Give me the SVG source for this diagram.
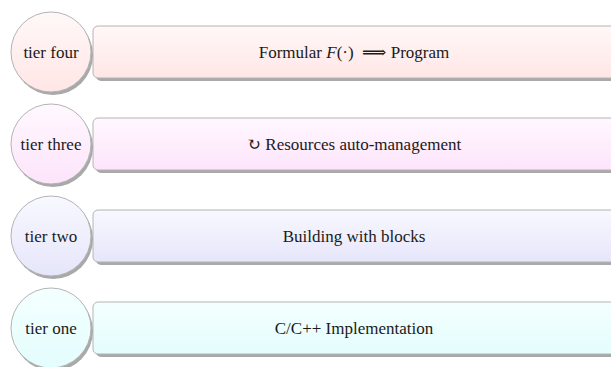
<svg xmlns="http://www.w3.org/2000/svg" width="611" height="367" viewBox="0 0 611 367">
<style>
.box{stroke:#b4b4b4;stroke-width:1}
.sh{fill:#a9a9a9}
.t{font-family:"Liberation Serif","DejaVu Serif",serif;font-size:17px;fill:#1a1a1a;text-anchor:middle}
</style>
<defs>
<linearGradient id="g4" x1="0" y1="0" x2="0" y2="1"><stop offset="0" stop-color="#fff8f8"/><stop offset="1" stop-color="#ffe6e6"/></linearGradient>
<linearGradient id="g3" x1="0" y1="0" x2="0" y2="1"><stop offset="0" stop-color="#fff8ff"/><stop offset="1" stop-color="#fde4fb"/></linearGradient>
<linearGradient id="g2" x1="0" y1="0" x2="0" y2="1"><stop offset="0" stop-color="#f8f8ff"/><stop offset="1" stop-color="#e6e6fb"/></linearGradient>
<linearGradient id="g1" x1="0" y1="0" x2="0" y2="1"><stop offset="0" stop-color="#f4ffff"/><stop offset="1" stop-color="#e4fdfd"/></linearGradient>
</defs>
<g id="tier4">
<rect class="sh" x="96" y="29" width="530" height="52" rx="5"/>
<rect class="box" x="93" y="26" width="530" height="52" rx="5" fill="url(#g4)"/>
<circle class="sh" cx="53" cy="55" r="40"/>
<circle class="box" cx="51" cy="52" r="40" fill="url(#g4)"/>
<text class="t" x="51" y="58">tier four</text>
<text class="t" x="354" y="58" xml:space="preserve">Formular <tspan font-style="italic">F</tspan>(·)  ⟹ Program</text>
</g>
<g id="tier3">
<rect class="sh" x="96" y="121" width="530" height="52" rx="5"/>
<rect class="box" x="93" y="118" width="530" height="52" rx="5" fill="url(#g3)"/>
<circle class="sh" cx="53" cy="147" r="40"/>
<circle class="box" cx="51" cy="144" r="40" fill="url(#g3)"/>
<text class="t" x="51" y="150">tier three</text>
<text class="t" x="354" y="150">↻ Resources auto-management</text>
</g>
<g id="tier2">
<rect class="sh" x="96" y="213" width="530" height="52" rx="5"/>
<rect class="box" x="93" y="210" width="530" height="52" rx="5" fill="url(#g2)"/>
<circle class="sh" cx="53" cy="239" r="40"/>
<circle class="box" cx="51" cy="236" r="40" fill="url(#g2)"/>
<text class="t" x="51" y="242">tier two</text>
<text class="t" x="354" y="242">Building with blocks</text>
</g>
<g id="tier1">
<rect class="sh" x="96" y="305" width="530" height="52" rx="5"/>
<rect class="box" x="93" y="302" width="530" height="52" rx="5" fill="url(#g1)"/>
<circle class="sh" cx="53" cy="331" r="40"/>
<circle class="box" cx="51" cy="328" r="40" fill="url(#g1)"/>
<text class="t" x="51" y="334">tier one</text>
<text class="t" x="354" y="334">C/C++ Implementation</text>
</g>
<g id="connectors"/>
</svg>
